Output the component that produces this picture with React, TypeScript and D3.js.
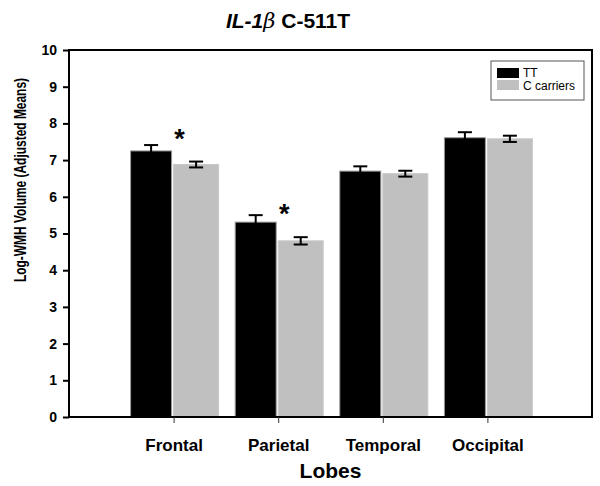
import { useEffect, useRef } from 'react'
import * as d3 from 'd3'

const lobes = ['Frontal', 'Parietal', 'Temporal', 'Occipital']
const series = ['TT', 'C carriers']
const ttMeans = [7.25, 5.31, 6.7, 7.61]
const ttErrors = [0.16, 0.19, 0.13, 0.15]
const cMeans = [6.88, 4.8, 6.63, 7.58]
const cErrors = [0.08, 0.1, 0.08, 0.085]
const significant = ['Frontal', 'Parietal']
const yTicks = [0, 1, 2, 3, 4, 5, 6, 7, 8, 9, 10]

const colors = ['#000000', '#c0c0c0']
const font = '"Liberation Sans", Arial, sans-serif'

const App = () => {
    const ref = useRef<SVGSVGElement | null>(null)

    useEffect(() => {
        if (!ref.current) return
        const width = 600
        const height = 486
        const left = 69
        const right = 592
        const top = 50
        const bottom = 417

        const svg = d3.select(ref.current)
        svg.selectAll('*').remove()
        svg.attr('width', width).attr('height', height)

        svg.append('rect').attr('width', width).attr('height', height).attr('fill', '#fff')

        const x = d3.scalePoint<string>().domain(lobes).range([left, right]).padding(1)
        const y = d3.scaleLinear().domain([0, 10]).range([bottom, top])

        // bar offsets relative to group centre (black narrower than grey in original)
        const bars = [
            { off: -43, w: 41, means: ttMeans, errs: ttErrors },
            { off: 0, w: 45, means: cMeans, errs: cErrors },
        ]

        bars.forEach((b, si) => {
            const g = svg.append('g')
            g.selectAll('rect')
                .data(lobes)
                .join('rect')
                .attr('x', d => x(d)! + b.off)
                .attr('y', (_, i) => y(b.means[i]))
                .attr('width', b.w)
                .attr('height', (_, i) => y(0) - y(b.means[i]))
                .attr('fill', colors[si])
                .attr('stroke', si === 0 ? '#9a9a9a' : '#c8c8c8')
                .attr('stroke-width', 1)

            const eb = svg.append('g').attr('stroke', '#000').attr('stroke-width', 2).attr('fill', 'none')
            lobes.forEach((l, i) => {
                const cx = x(l)! + b.off + b.w / 2
                const hi = y(b.means[i] + b.errs[i])
                const lo = y(b.means[i] - b.errs[i])
                eb.append('line').attr('x1', cx).attr('x2', cx).attr('y1', hi).attr('y2', lo)
                eb.append('line').attr('x1', cx - 7).attr('x2', cx + 7).attr('y1', hi).attr('y2', hi)
                eb.append('line').attr('x1', cx - 7).attr('x2', cx + 7).attr('y1', lo).attr('y2', lo)
            })
        })

        // significance stars
        svg.append('g')
            .selectAll('text')
            .data(significant)
            .join('text')
            .attr('x', d => x(d)! + 6)
            .attr('y', d => {
                const i = lobes.indexOf(d)
                return y(cMeans[i] + cErrors[i]) - 14
            })
            .attr('text-anchor', 'middle')
            .attr('font-family', font)
            .attr('font-weight', 'bold')
            .attr('font-size', 27)
            .text('*')

        // frame
        svg.append('rect')
            .attr('x', left)
            .attr('y', top)
            .attr('width', right - left)
            .attr('height', bottom - top)
            .attr('fill', 'none')
            .attr('stroke', '#000')
            .attr('stroke-width', 2)

        // y axis
        const yAxis = svg.append('g')
            .attr('transform', `translate(${left},0)`)
            .call(d3.axisLeft(y).tickValues(yTicks).tickSize(6).tickPadding(6).tickFormat(d3.format('d')))
        yAxis.select('.domain').remove()
        yAxis.selectAll('line').attr('stroke', '#000').attr('stroke-width', 2)
        yAxis.selectAll('text')
            .attr('font-family', font)
            .attr('font-weight', 'bold')
            .attr('font-size', 14)
            .attr('fill', '#000')

        // x axis
        const xAxis = svg.append('g')
            .attr('transform', `translate(0,${bottom})`)
            .call(d3.axisBottom(x).tickSize(6).tickPadding(16))
        xAxis.select('.domain').remove()
        xAxis.selectAll('line').attr('stroke', '#333').attr('stroke-width', 1)
        xAxis.selectAll('text')
            .attr('font-family', font)
            .attr('font-weight', 'bold')
            .attr('font-size', 17)
            .attr('fill', '#000')

        svg.append('text')
            .attr('x', (left + right) / 2)
            .attr('y', 478)
            .attr('text-anchor', 'middle')
            .attr('font-family', font)
            .attr('font-weight', 'bold')
            .attr('font-size', 21)
            .text('Lobes')

        svg.append('text')
            .attr('transform', 'translate(26,180) rotate(-90)')
            .attr('text-anchor', 'middle')
            .attr('font-family', font)
            .attr('font-weight', 'bold')
            .attr('font-size', 16.5)
            .attr('textLength', 204)
            .attr('lengthAdjust', 'spacingAndGlyphs')
            .text('Log-WMH Volume (Adjusted Means)')

        // title
        const title = svg.append('text')
            .attr('x', 288)
            .attr('y', 28)
            .attr('text-anchor', 'middle')
            .attr('font-family', font)
            .attr('font-weight', 'bold')
            .attr('font-size', 21)
        title.append('tspan').attr('font-style', 'italic').text('IL-1')
        title.append('tspan').attr('font-style', 'italic').attr('font-weight', 'normal')
            .attr('font-family', '"DejaVu Serif", serif').text('β')
        title.append('tspan').text(' C-511T')

        // legend
        const lg = svg.append('g')
        lg.append('rect')
            .attr('x', 491)
            .attr('y', 61)
            .attr('width', 93)
            .attr('height', 39)
            .attr('fill', '#fff')
            .attr('stroke', '#555')
            .attr('stroke-width', 1)
        series.forEach((s, i) => {
            lg.append('rect')
                .attr('x', 497)
                .attr('y', 68 + i * 12)
                .attr('width', 22)
                .attr('height', 10)
                .attr('fill', colors[i])
            lg.append('text')
                .attr('x', 523)
                .attr('y', 77 + i * 13)
                .attr('font-family', font)
                .attr('font-size', 12)
                .text(s)
        })
    }, [])

    return (
        <div>
            <svg ref={ref} style={{ position: 'absolute', left: 0, top: 0 }}></svg>
        </div>
    )
}

export default App
